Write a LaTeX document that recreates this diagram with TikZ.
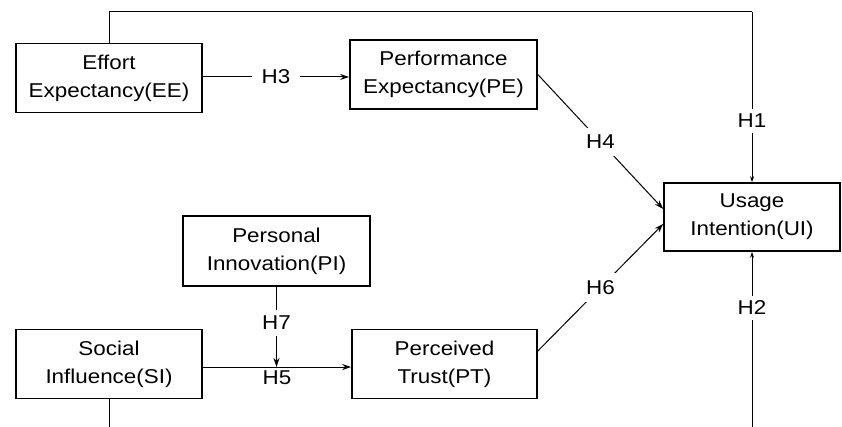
\documentclass[tikz,border=0pt]{standalone}
\usepackage{fontspec}
\setmainfont{Liberation Sans}[FakeStretch=1.12]
\usetikzlibrary{arrows.meta,calc}
\begin{document}
\begin{tikzpicture}[x=1pt,y=-1pt,
  box/.style={draw, line width=1.6pt, minimum height=69pt, align=center, inner sep=0pt,
    font=\fontsize{20}{28}\selectfont},
  lbl/.style={fill=white, inner xsep=10pt, inner ysep=5pt, font=\fontsize{20}{24}\selectfont},
  conn/.style={line width=1pt},
  arr/.style={-{Stealth[length=9pt,width=6pt]}},
  barr/.style={-{Stealth[length=6pt,width=4pt,fill=blue!55!black]}}]
\useasboundingbox (0,0) rectangle (842,427);
\clip (0,0) rectangle (842,427);
\node[box, minimum width=186pt] (EE) at (109,78) {Effort\\Expectancy(EE)};
\node[box, minimum width=187pt] (PE) at (443.5,74.5) {Performance\\Expectancy(PE)};
\node[box, minimum width=176pt, minimum height=68pt] (UI) at (752,217) {Usage\\Intention(UI)};
\node[box, minimum width=187pt, minimum height=70pt] (PI) at (276.5,251) {Personal\\Innovation(PI)};
\node[box, minimum width=186pt] (SI) at (109,364) {Social\\Influence(SI)};
\node[box, minimum width=185pt] (PT) at (444.5,364) {Perceived\\Trust(PT)};
\coordinate (topc) at (752,12);
\coordinate (botc) at (752,445);
% H1
\draw[conn] (EE.north) |- (topc);
\draw[conn,barr] (topc) -- node[lbl,pos=0.64] (h1) {H1} (UI.north);
% H2
\draw[conn] (SI.south) |- (botc);
\draw[conn,barr] (botc) -- node[lbl,pos=0.71] (h2) {H2} (UI.south);
% H3
\draw[conn,arr] (EE.east |- 0,77) -- node[lbl] (h3) {H3} (PE.west |- 0,77);
% H4
\draw[conn,arr] (PE.east) -- node[lbl,inner xsep=4pt,inner ysep=7pt] (h4) {H4} ($(UI.west)+(0,-8)$);
% H6
\draw[conn,arr] ($(PT.east)+(0,-13)$) -- node[lbl,inner xsep=4pt,inner ysep=7pt] (h6) {H6} ($(UI.west)+(0,7)$);
% H5
\draw[conn,arr] ($(SI.east)+(0,3)$) coordinate (s5) -- node[below=3pt, inner sep=0pt, font=\fontsize{20}{24}\selectfont] (h5) {H5} ($(PT.west)+(0,3)$);
% H7
\draw[conn,arr] (PI.south) -- node[lbl,pos=0.45,inner ysep=6pt] (h7) {H7} (PI.south |- s5);
\end{tikzpicture}
\end{document}
